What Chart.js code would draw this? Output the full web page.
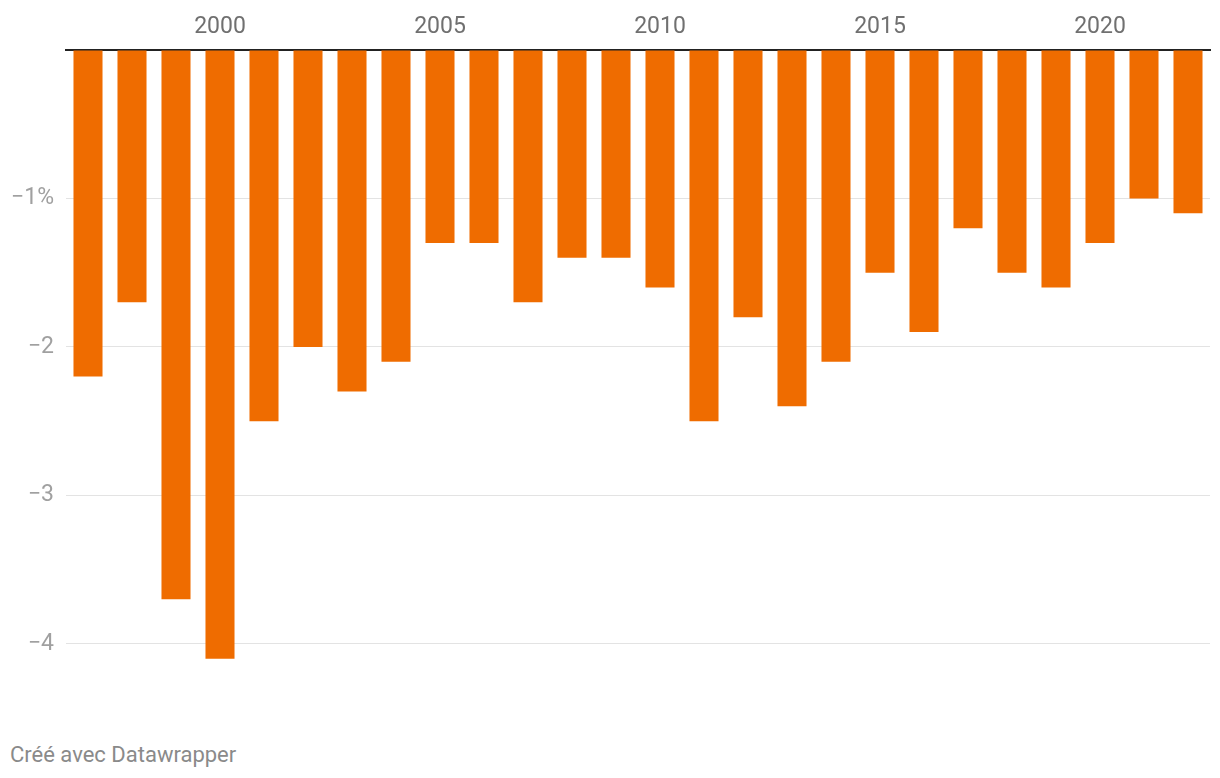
<!DOCTYPE html>
<html>
<head>
<meta charset="utf-8">
<script src="https://cdn.jsdelivr.net/npm/chart.js@4"></script>
<style>
  html, body { margin: 0; padding: 0; background: #fff; }
  #wrap { position: absolute; left: 0; top: 0; width: 1220px; height: 729px; }
  #note { position: absolute; left: 10px; top: 742px; font: 22px Roboto, sans-serif; color: #8a8a8a; }
</style>
</head>
<body>
<div id="wrap"><canvas id="myChart"></canvas></div>
<div id="note">Créé avec Datawrapper</div>
<script>
const years = [1997, 1998, 1999, 2000, 2001, 2002, 2003, 2004, 2005, 2006, 2007, 2008, 2009,
  2010, 2011, 2012, 2013, 2014, 2015, 2016, 2017, 2018, 2019, 2020, 2021, 2022];
const values = [-2.2, -1.7, -3.7, -4.1, -2.5, -2.0, -2.3, -2.1, -1.3, -1.3, -1.7, -1.4, -1.4,
  -1.6, -2.5, -1.8, -2.4, -2.1, -1.5, -1.9, -1.2, -1.5, -1.6, -1.3, -1.0, -1.1];
const yTicks = [0, -1, -2, -3, -4];

(function () {
  const ctx = document.getElementById("myChart");

  new Chart(ctx, {
    type: "bar",
    data: {
      labels: years,
      datasets: [
        {
          data: values,
          backgroundColor: "#ef6c00",
          barPercentage: 0.66,
          categoryPercentage: 1,
        },
      ],
    },
    options: {
      responsive: true,
      maintainAspectRatio: false,
      animation: false,
      layout: { padding: { left: 0, right: 10, top: 3, bottom: 0 } },
      scales: {
        x: {
          position: "top",
          grid: { display: false, drawTicks: false },
          border: { color: "#222", width: 2 },
          ticks: {
            autoSkip: false,
            maxRotation: 0,
            padding: 9,
            color: "#707070",
            font: { family: "Roboto", size: 23 },
            callback: function (v, i) {
              const y = years[i];
              return y % 5 === 0 ? String(y) : "";
            },
          },
          afterFit: function (s) { s.height = 47; },
        },
        y: {
          min: -4.4,
          max: 0,
          border: { display: false },
          grid: {
            drawTicks: false,
            color: function (c) { return c.tick.value === 0 ? "rgba(0,0,0,0)" : "#e3e3e3"; },
          },
          afterBuildTicks: function (s) {
            s.ticks = yTicks.map(function (v) { return { value: v }; });
          },
          ticks: {
            padding: 12,
            color: "#a0a0a0",
            font: { family: "Roboto", size: 23 },
            callback: function (v) {
              if (v === 0) return "";
              if (v === -1) return "\u22121%";
              return "\u2212" + Math.abs(v);
            },
          },
          afterFit: function (s) { s.width = 66; },
        },
      },
      plugins: {
        legend: { display: false },
        tooltip: { enabled: false },
      },
    },
  });
})();
</script>
</body>
</html>
